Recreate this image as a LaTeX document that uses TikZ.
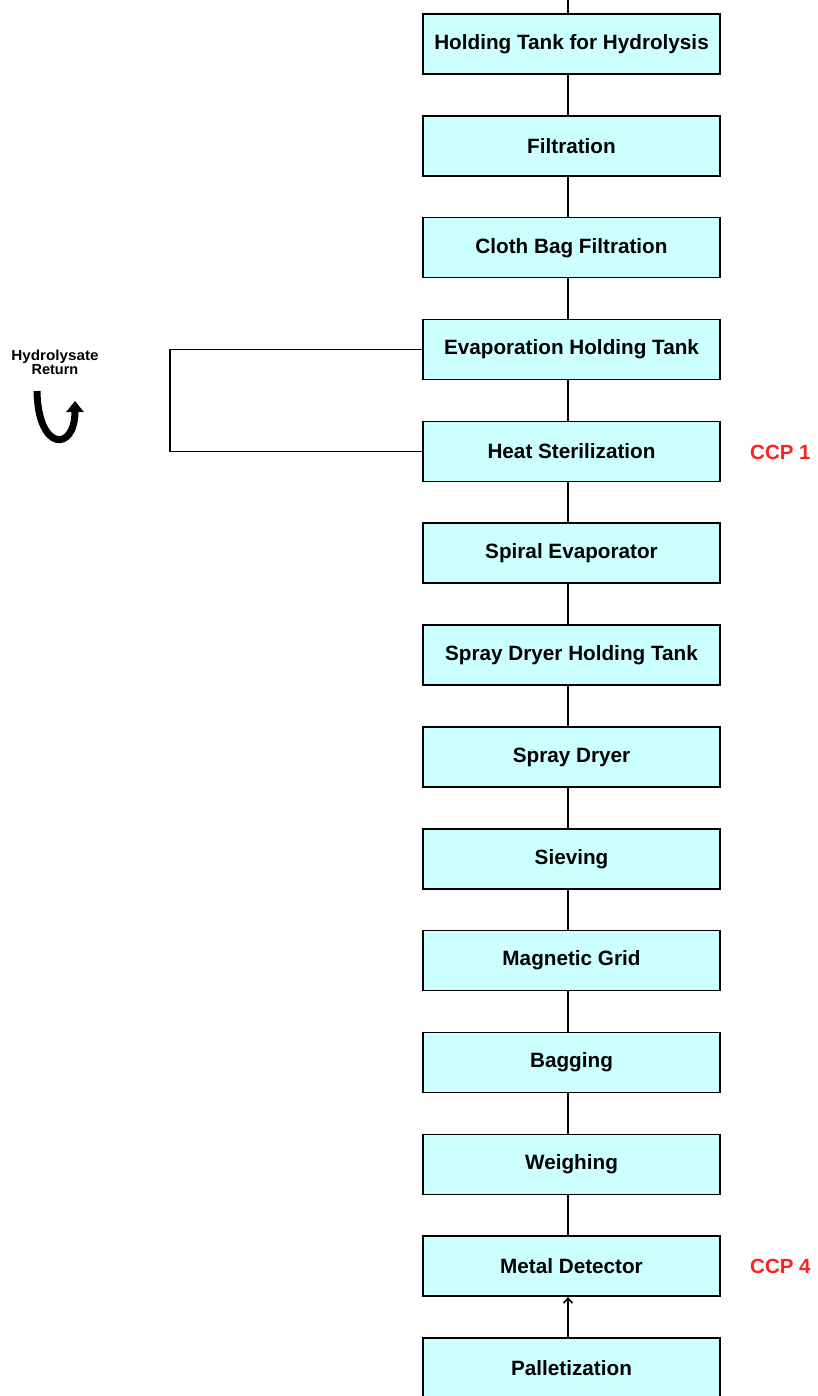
\documentclass[tikz,border=0pt]{standalone}
\usepackage{fontspec}
\setmainfont{Liberation Sans}
\usetikzlibrary{arrows.meta}
\definecolor{boxfill}{HTML}{CCFFFF}
\definecolor{ccpred}{HTML}{FF2020}
\tikzset{
  stepbox/.style={draw=black, line width=1.6pt, fill=boxfill, minimum width=297pt, minimum height=60pt, inner sep=0pt, font=\fontsize{20.7}{24}\selectfont\bfseries, text=black},
  link/.style={draw=black, line width=1.6pt},
  ccp/.style={font=\fontsize{20.5}{24}\selectfont\bfseries, text=ccpred, anchor=west, inner sep=0pt},
}
\begin{document}
\begin{tikzpicture}[x=1pt,y=-1pt]
\useasboundingbox (0,0) rectangle (818,1396);
\foreach \i/\t in {1/Holding Tank for Hydrolysis,2/Filtration,3/Cloth Bag Filtration,4/Evaporation Holding Tank,5/Heat Sterilization,6/Spiral Evaporator,7/Spray Dryer Holding Tank,8/Spray Dryer,9/Sieving,10/Magnetic Grid,11/Bagging,12/Weighing,13/Metal Detector,14/Palletization}{
  \node[stepbox] (b\i) at (571.5,{44+(\i-1)*101.85}) {\t};
}
\coordinate (top) at (568,0);
\draw[link] (top) -- ([xshift=-3.5pt]b1.north);
\foreach \i [evaluate=\i as \j using int(\i+1)] in {1,...,12}{
  \draw[link] ([xshift=-3.5pt]b\i.south) -- ([xshift=-3.5pt]b\j.north);
}
\draw[link,-{Straight Barb[length=5pt,width=9pt]}] ([xshift=-3.5pt]b14.north) -- ([xshift=-3.5pt]b13.south);
\draw[link] (b4.west) -- ++(-252,0) |- (b5.west);
\node[ccp] (c1) at (750,452) {CCP 1};
\node[ccp] (c4) at (750,1266) {CCP 4};
\node[font=\fontsize{14.5}{12.5}\selectfont\bfseries, align=center, inner sep=0pt] (hr) at (55,362) {\scalebox{1.05}[1]{Hydrolysate}\\Return};
\draw[line width=7pt, -{Triangle[length=11pt,width=17pt]}] (37,391) .. controls (38,452) and (75,452) .. (75,401);
\end{tikzpicture}
\end{document}
